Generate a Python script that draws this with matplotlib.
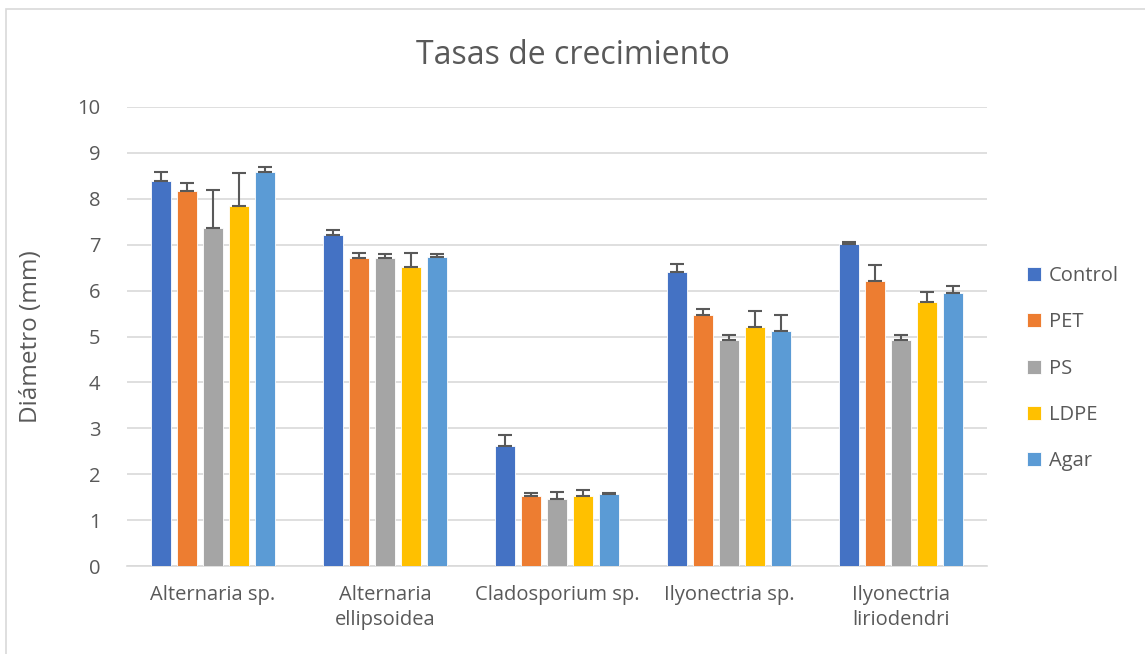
import numpy as np
import matplotlib.pyplot as plt
from matplotlib.patches import Rectangle

categories = ["Alternaria sp.", "Alternaria\nellipsoidea", "Cladosporium sp.",
              "Ilyonectria sp.", "Ilyonectria\nliriodendri"]
series = ["Control", "PET", "PS", "LDPE", "Agar"]
colors = ["#4472C4", "#ED7D31", "#A5A5A5", "#FFC000", "#5B9BD5"]

# mean diameter per series (one value per category)
control = [8.39, 7.22, 2.61, 6.41, 7.02]
pet = [8.18, 6.71, 1.53, 5.47, 6.20]
ps = [7.37, 6.71, 1.45, 4.92, 4.92]
ldpe = [7.84, 6.51, 1.52, 5.20, 5.76]
agar = [8.58, 6.73, 1.57, 5.11, 5.94]

# upper error (std) per series
control_err = [0.20, 0.10, 0.24, 0.18, 0.04]
pet_err = [0.16, 0.10, 0.05, 0.13, 0.35]
ps_err = [0.82, 0.08, 0.17, 0.11, 0.11]
ldpe_err = [0.72, 0.32, 0.13, 0.36, 0.22]
agar_err = [0.12, 0.07, 0.03, 0.36, 0.16]

values = [control, pet, ps, ldpe, agar]
errors = [control_err, pet_err, ps_err, ldpe_err, agar_err]

plt.rcParams['font.family'] = ['Open Sans', 'DejaVu Sans']
txt = "#595959"

fig = plt.figure(figsize=(11.45, 6.54), dpi=100)
fig.patches.append(Rectangle((6 / 1145, -0.05), 1.2, 1.05 - 9 / 654, transform=fig.transFigure,
                             fill=False, edgecolor="#D9D9D9", linewidth=1.2))
ax = fig.add_axes([127 / 1145, 88 / 654, 860 / 1145, 459 / 654])

x = np.arange(len(categories))
w = 20 / 172
step = 26 / 172
for i, (name, vals, errs, c) in enumerate(zip(series, values, errors, colors)):
    pos = x + (i - 2) * step
    ax.bar(pos, vals, width=w, color=c, edgecolor="white", linewidth=0.6, label=name, zorder=3)
    ax.errorbar(pos, vals, yerr=[np.zeros(len(errs)), errs], fmt="none",
                ecolor="#595959", elinewidth=1.5, capsize=5, capthick=1.5, zorder=4)

ax.set_xlim(-0.5, len(categories) - 0.5)
ax.set_ylim(0, 10)
ax.set_yticks(range(0, 11))
ax.grid(axis="y", color="#D9D9D9", linewidth=1.2, zorder=0)
for s in ["top", "right", "left"]:
    ax.spines[s].set_visible(False)
ax.spines["bottom"].set_color("#D9D9D9")
ax.spines["bottom"].set_linewidth(1.2)
ax.tick_params(axis="both", length=0, colors=txt, labelsize=14.5)
ax.tick_params(axis="y", pad=19)
ax.tick_params(axis="x", pad=14)
ax.set_xticks(x)
ax.set_xticklabels(categories, linespacing=1.3)
ax.set_ylabel("Diámetro (mm)", color=txt, fontsize=17.5)
ax.yaxis.set_label_coords(-0.098, 0.5)

fig.text(0.5, 1 - 55 / 654, "Tasas de crecimiento", ha="center", va="center",
         color=txt, fontsize=23)

leg = ax.legend(loc="center left", bbox_to_anchor=(1.025, 0.43), frameon=False,
                fontsize=14.5, handlelength=0.7, handleheight=0.7, labelspacing=1.3,
                handletextpad=0.4)
for t in leg.get_texts():
    t.set_color(txt)

plt.savefig("out.png", dpi=100)
